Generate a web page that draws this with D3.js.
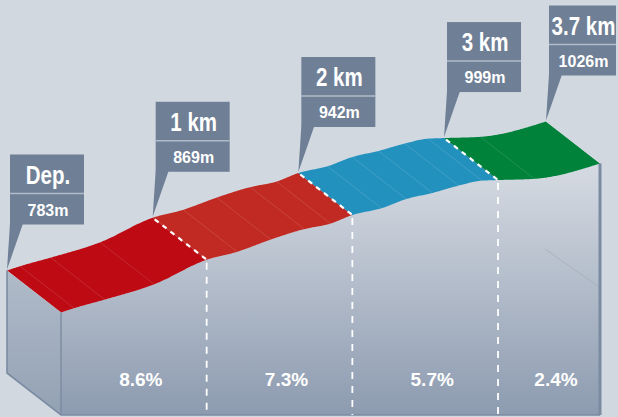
<!DOCTYPE html>
<html><head><meta charset="utf-8">
<script src="https://cdn.jsdelivr.net/npm/d3@7"></script>
<style>html,body{margin:0;padding:0;background:#d1d8e0;} svg{display:block}</style>
</head><body>
<svg id="c" width="618" height="417"></svg>
<script>
// ---- data ----
const profileKm   = [0, 0.09, 0.30, 0.64, 1.0, 1.21, 1.44, 1.67, 1.85, 2.0, 2.2, 2.37, 2.55, 2.73, 2.89, 3.0, 3.25, 3.7];
const profileElev = [783, 790, 804, 829, 869, 882, 902, 919, 928, 942, 953, 968, 978, 990, 998, 999, 1001, 1026];
const markerKm     = [0, 1, 2, 3, 3.7];
const markerTitles = ["Dep.", "1 km", "2 km", "3 km", "3.7 km"];
const markerElev   = [783, 869, 942, 999, 1026];
const segmentStart = [0, 1, 2, 3];
const segmentEnd   = [1, 2, 3, 3.7];
const segmentGrades = ["8.6%", "7.3%", "5.7%", "2.4%"];

// ---- styles / layout ----
const segmentColors = ["#bd0a13", "#c12a22", "#2391bd", "#00823a"];
const DX = 54, DY = 42;           // extrusion offset (back -> front)
const backBaseY = 373, frontBaseY = 415;
const boxColor = "#6f7f96";

const svg = d3.select("#c");
const x = d3.scaleLinear().domain([0, 3.7]).range([7, 546]);
const y = d3.scaleLinear().domain([783, 1026]).range([270.5, 121.5]);

const pts = profileKm.map((k, i) => [k, profileElev[i]]);
const elevAt = k => profileElev[profileKm.indexOf(k)];

const defs = svg.append("defs");
const g1 = defs.append("linearGradient").attr("id", "face")
  .attr("gradientUnits", "userSpaceOnUse").attr("x1", 0).attr("y1", 160).attr("x2", 0).attr("y2", 415);
g1.append("stop").attr("offset", 0).attr("stop-color", "#d7dce3");
g1.append("stop").attr("offset", 1).attr("stop-color", "#8d9bb0");
const g2 = defs.append("linearGradient").attr("id", "side")
  .attr("gradientUnits", "userSpaceOnUse").attr("x1", 0).attr("y1", 260).attr("x2", 0).attr("y2", 415);
g2.append("stop").attr("offset", 0).attr("stop-color", "#b3bdcb");
g2.append("stop").attr("offset", 1).attr("stop-color", "#93a1b4");

// sample the back profile curve
const backLine = d3.line().x(d => x(d[0])).y(d => y(d[1])).curve(d3.curveMonotoneX);
const tmp = svg.append("path").attr("d", backLine(pts)).attr("fill", "none");
const len = tmp.node().getTotalLength();
const N = 500;
const backPts = d3.range(N + 1).map(i => { const p = tmp.node().getPointAtLength(len * i / N); return [p.x, p.y]; });
tmp.remove();
const frontPts = backPts.map(p => [p[0] + DX, p[1] + DY]);

const x0 = x(0), y0 = y(elevAt(0));
const xR = x(3.7), yR = y(elevAt(3.7));

// left side face
svg.append("path")
  .attr("d", `M${x0},${y0}L${x0 + DX},${y0 + DY}L${x0 + DX},${frontBaseY}L${x0},${backBaseY}Z`)
  .attr("fill", "url(#side)");
// front face
svg.append("path")
  .attr("d", "M" + frontPts.map(p => p.join(",")).join("L") + `L${xR + DX},${frontBaseY}L${x0 + DX},${frontBaseY}Z`)
  .attr("fill", "url(#face)");

// faint line on front face
svg.append("line").attr("x1", xR - 1).attr("y1", 249).attr("x2", xR + DX - 1).attr("y2", 249 + DY * 0.9)
  .attr("stroke", "#aab2bc").attr("stroke-width", 1);

// edges of box
const edge = "#7b8ba2";
svg.append("path").attr("d", `M${x0},${y0}L${x0},${backBaseY}L${x0 + DX},${frontBaseY}L${xR + DX},${frontBaseY}`)
  .attr("fill", "none").attr("stroke", edge).attr("stroke-width", 1.6);
svg.append("line").attr("x1", x0 + DX).attr("x2", x0 + DX).attr("y1", y0 + DY).attr("y2", frontBaseY)
  .attr("stroke", edge).attr("stroke-width", 1.4);
svg.append("line").attr("x1", xR + DX).attr("x2", xR + DX).attr("y1", yR + DY).attr("y2", frontBaseY)
  .attr("stroke", edge).attr("stroke-width", 3);

// top surface, clipped per segment
const surfaceD = "M" + backPts.map(p => p.join(",")).join("L") + "L" +
  frontPts.slice().reverse().map(p => p.join(",")).join("L") + "Z";
segmentStart.forEach((a, i) => {
  const b = segmentEnd[i];
  const xa = x(a), ya = y(elevAt(a)), xb = x(b), yb = y(elevAt(b));
  const k = 6;
  defs.append("clipPath").attr("id", "seg" + i).append("path")
    .attr("d", `M${xa - DX * k},${ya - DY * k}L${xb - DX * k},${yb - DY * k}L${xb + DX * k},${yb + DY * k}L${xa + DX * k},${ya + DY * k}Z`);
  svg.append("path").attr("d", surfaceD).attr("fill", segmentColors[i])
    .attr("clip-path", `url(#seg${i})`);
});

// texture slices at profile points
svg.append("g").selectAll("line")
  .data(pts.filter(d => !markerKm.includes(d[0])))
  .join("line")
  .attr("x1", d => x(d[0])).attr("y1", d => y(d[1]))
  .attr("x2", d => x(d[0]) + DX).attr("y2", d => y(d[1]) + DY)
  .attr("stroke", "#fff").attr("stroke-opacity", 0.16).attr("stroke-width", 0.8);

// km boundary dashes
const inner = markerKm.slice(1, -1);
svg.append("g").selectAll("line").data(inner).join("line")
  .attr("x1", d => x(d) + 2).attr("y1", d => y(elevAt(d)) + 1.5)
  .attr("x2", d => x(d) + DX).attr("y2", d => y(elevAt(d)) + DY)
  .attr("stroke", "#fff").attr("stroke-width", 2.2).attr("stroke-dasharray", "5,5");
svg.append("g").selectAll("line").data(inner).join("line")
  .attr("x1", d => x(d) + DX).attr("y1", d => y(elevAt(d)) + DY + 3)
  .attr("x2", d => x(d) + DX).attr("y2", frontBaseY)
  .attr("stroke", "#fff").attr("stroke-width", 1.8).attr("stroke-dasharray", "7,7");

// grade labels
svg.append("g").selectAll("text").data(segmentGrades).join("text")
  .attr("x", (d, i) => (x(segmentStart[i]) + x(segmentEnd[i])) / 2 + DX + 7)
  .attr("y", 386)
  .attr("text-anchor", "middle").attr("fill", "#fff")
  .attr("font-family", "'Liberation Sans', Arial, sans-serif").attr("font-weight", "bold")
  .attr("font-size", 19)
  .text(d => d);

// marker label boxes
markerKm.forEach((k, i) => {
  const px = x(k), py = y(markerElev[i]);
  const left = px + 3;
  const w = Math.min(74, 616 - left);
  const bottom = py - 46;
  const top = bottom - 70;
  const g = svg.append("g");
  g.append("path").attr("d", `M${left},${bottom - 1}L${left + 13},${bottom - 1}L${px},${py - 1}Z`).attr("fill", boxColor);
  g.append("rect").attr("x", left).attr("y", top).attr("width", w).attr("height", 70).attr("fill", boxColor);
  g.append("line").attr("x1", left).attr("x2", left + w).attr("y1", top + 39).attr("y2", top + 39)
    .attr("stroke", "#b0bac8").attr("stroke-width", 1.5);
  g.append("text").attr("transform", `translate(${left + w / 2 + 1},${top + 29}) scale(0.82,1)`)
    .attr("text-anchor", "middle").attr("fill", "#fff")
    .attr("font-family", "'Liberation Sans', Arial, sans-serif").attr("font-weight", "bold")
    .attr("font-size", 25).text(markerTitles[i]);
  g.append("text").attr("x", left + w / 2 + 1).attr("y", top + 61)
    .attr("text-anchor", "middle").attr("fill", "#fff")
    .attr("font-family", "'Liberation Sans', Arial, sans-serif").attr("font-weight", "bold")
    .attr("font-size", 16).text(markerElev[i] + "m");
});
</script>
</body></html>
